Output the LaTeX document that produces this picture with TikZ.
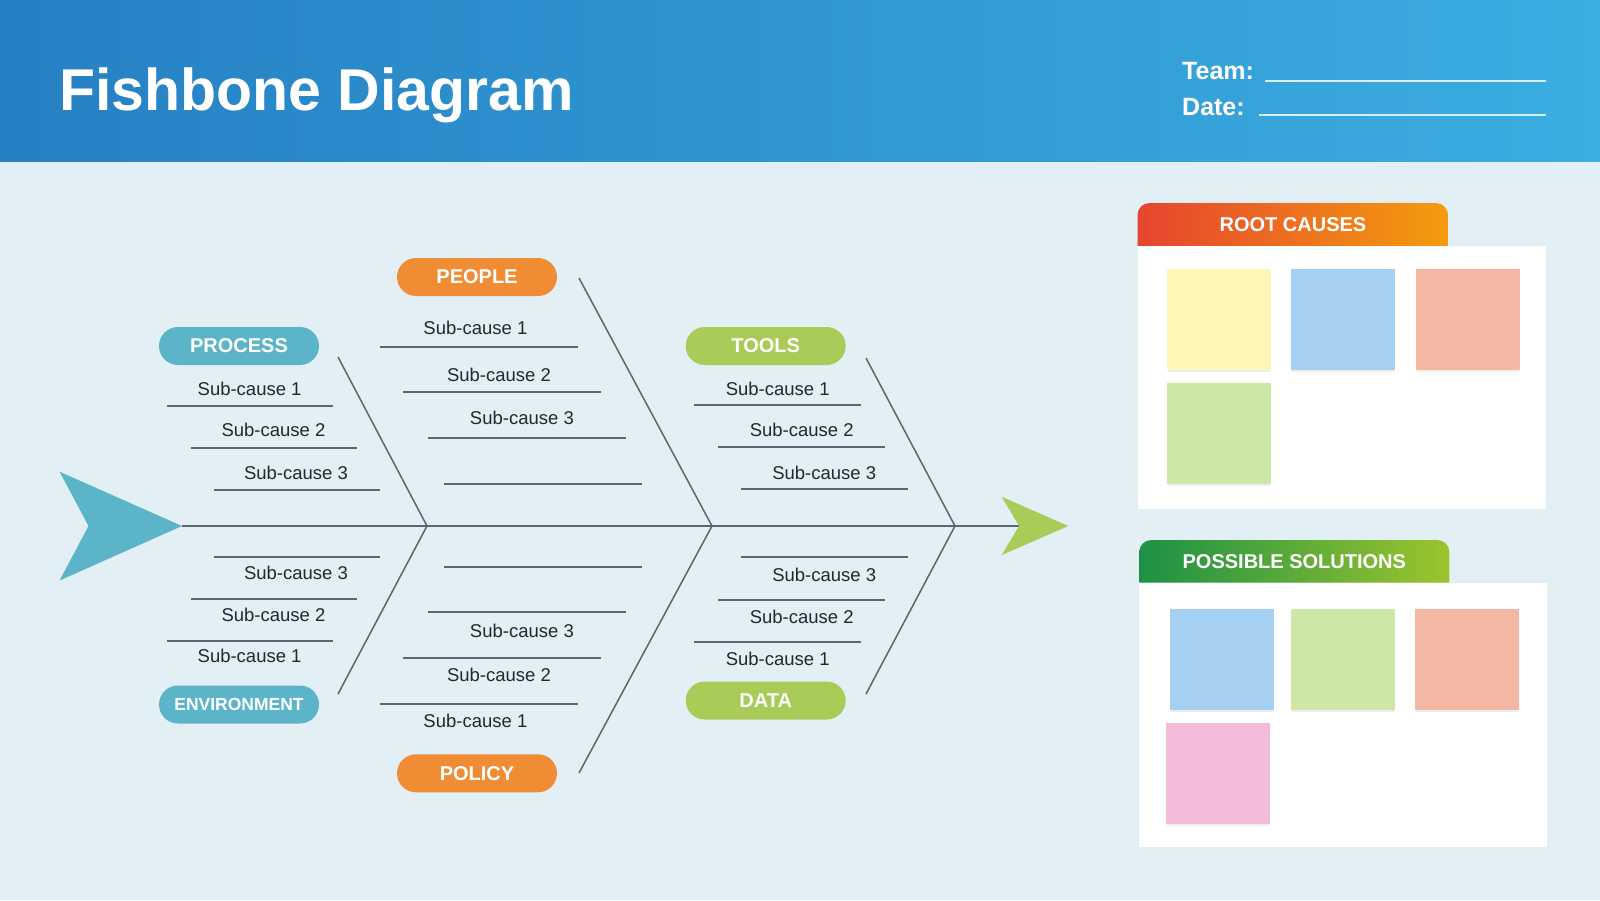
\documentclass[tikz,border=0pt]{standalone}
\usepackage{fontspec}
\setmainfont{Liberation Sans}
\definecolor{bg}{HTML}{E2F0F6}
\definecolor{hdrL}{HTML}{2680C3}
\definecolor{hdrR}{HTML}{3AADE1}
\definecolor{teal}{HTML}{5CB4C8}
\definecolor{orng}{HTML}{F08C33}
\definecolor{lime}{HTML}{A9CC58}
\definecolor{bonec}{HTML}{5A6670}
\definecolor{txt}{HTML}{1E2A32}
\definecolor{redc}{HTML}{E5452F}
\definecolor{amber}{HTML}{F49C0E}
\definecolor{dgreen}{HTML}{1C9145}
\definecolor{lgreen}{HTML}{9DC42D}
\definecolor{stkY}{HTML}{FCF7B7}
\definecolor{stkB}{HTML}{A6D0F2}
\definecolor{stkS}{HTML}{F4B7A3}
\definecolor{stkG}{HTML}{CDE8A6}
\definecolor{stkP}{HTML}{F2BBDA}
\tikzset{
  pill/.style={rectangle, rounded corners=19pt, minimum width=160pt, minimum height=38pt, inner sep=0pt, text=white, font=\fontsize{20}{20}\selectfont\bfseries},
  sub/.style={inner sep=0pt, text=txt, font=\fontsize{18.5}{18.5}\selectfont},
  subl/.style={draw=bonec, line width=2pt},
  bone/.style={draw=bonec, line width=1.5pt},
  spine/.style={draw=bonec, line width=2.5pt},
  sticky/.style={rectangle, minimum width=104pt, minimum height=101pt, inner sep=0pt},
  tabtext/.style={inner sep=0pt, text=white, font=\fontsize{20}{20}\selectfont\bfseries}
}
\begin{document}
\begin{tikzpicture}[x=1pt,y=-1pt]
\useasboundingbox (0,0) rectangle (1600,900);
\fill[bg] (0,0) rectangle (1600,900);
% header
\shade[left color=hdrL, right color=hdrR] (0,0) rectangle (1600,161);
\node[anchor=base west, inner sep=0pt, text=white, font=\fontsize{59}{59}\selectfont\bfseries] (title) at (59,110) {Fishbone Diagram};
\node[anchor=base west, inner sep=0pt, text=white, font=\fontsize{25}{25}\selectfont\bfseries] (team) at (1182,79) {Team:};
\node[anchor=base west, inner sep=0pt, text=white, font=\fontsize{25}{25}\selectfont\bfseries] (date) at (1182,115) {Date:};
\coordinate (tl1) at (1265,81); \coordinate (tl2) at (1546,81);
\coordinate (dl1) at (1259,115); \coordinate (dl2) at (1546,115);
\draw[white!80!hdrR, line width=1.3pt] (tl1) -- (tl2);
\draw[white!80!hdrR, line width=1.3pt] (dl1) -- (dl2);

% fish tail and head
\coordinate (tailtip) at (182,526);
\coordinate (headnotch) at (1019,526);
\fill[teal] (59.6,471.7) -- (tailtip) -- (59.6,580.5) -- (88.5,526) -- cycle;
\draw[spine] (tailtip) -- (headnotch);
\fill[lime] (1001.7,496.7) -- (1068.3,526) -- (1001.7,555) -- (headnotch) -- cycle;

% bones
\coordinate (J1) at (427,526); \coordinate (B1t) at (338,357); \coordinate (B1b) at (338,694);
\coordinate (J2) at (712,526); \coordinate (B2t) at (579,278); \coordinate (B2b) at (579,773);
\coordinate (J3) at (955,526); \coordinate (B3t) at (866,358); \coordinate (B3b) at (866,694);
\draw[bone] (B1t) -- (J1) -- (B1b);
\draw[bone] (B2t) -- (J2) -- (B2b);
\draw[bone] (B3t) -- (J3) -- (B3b);

% pills
\node[pill, fill=teal] (process) at (239,346) {PROCESS};
\node[pill, fill=teal, font=\fontsize{17.5}{17.5}\selectfont\bfseries] (environment) at (239,704.5) {ENVIRONMENT};
\node[pill, fill=orng] (people) at (477,277) {PEOPLE};
\node[pill, fill=orng] (policy) at (477,773.3) {POLICY};
\node[pill, fill=lime] (tools) at (765.7,346) {TOOLS};
\node[pill, fill=lime] (data) at (765.7,700.5) {DATA};

% process sub-causes
\node[sub] (pr1) at (249.6,389) {Sub-cause 1};
\node[sub] (pr2) at (273.5,430) {Sub-cause 2};
\node[sub] (pr3) at (296,472.4) {Sub-cause 3};
\draw[subl] (166.5,405.7) -- (333,405.7);
\draw[subl] (190.8,448) -- (357.3,448);
\draw[subl] (213.5,490) -- (380,490);
% environment sub-causes
\draw[subl] (213.5,556.7) -- (380,556.7);
\draw[subl] (190.8,599) -- (357.3,599);
\draw[subl] (166.5,641) -- (333,641);
\node[sub] (en3) at (296,572.7) {Sub-cause 3};
\node[sub] (en2) at (273.5,615) {Sub-cause 2};
\node[sub] (en1) at (249.6,656) {Sub-cause 1};

% people sub-causes
\node[sub] (pe1) at (475.4,328.3) {Sub-cause 1};
\node[sub] (pe2) at (499,375) {Sub-cause 2};
\node[sub] (pe3) at (521.9,418.3) {Sub-cause 3};
\draw[subl] (380.3,346.7) -- (578,346.7);
\draw[subl] (403.2,392.3) -- (601,392.3);
\draw[subl] (428,438) -- (625.6,438);
\draw[subl] (444,483.7) -- (642.4,483.7);
% policy sub-causes
\draw[subl] (444,566.7) -- (642.4,566.7);
\draw[subl] (428,612) -- (625.6,612);
\draw[subl] (403.2,657.7) -- (601,657.7);
\draw[subl] (380.3,703.7) -- (578,703.7);
\node[sub] (po3) at (521.9,630.7) {Sub-cause 3};
\node[sub] (po2) at (499,675) {Sub-cause 2};
\node[sub] (po1) at (475.4,721) {Sub-cause 1};

% tools sub-causes
\node[sub] (to1) at (777.7,389.3) {Sub-cause 1};
\node[sub] (to2) at (801.7,430) {Sub-cause 2};
\node[sub] (to3) at (824.2,472.7) {Sub-cause 3};
\draw[subl] (694,405.3) -- (860.7,405.3);
\draw[subl] (718.3,447) -- (885,447);
\draw[subl] (741,489.3) -- (907.7,489.3);
% data sub-causes
\draw[subl] (741,557.3) -- (907.7,557.3);
\draw[subl] (718.3,599.7) -- (885,599.7);
\draw[subl] (694,641.7) -- (860.7,641.7);
\node[sub] (da3) at (824.2,575) {Sub-cause 3};
\node[sub] (da2) at (801.7,616.7) {Sub-cause 2};
\node[sub] (da1) at (777.7,659) {Sub-cause 1};

% root causes panel
\shade[left color=redc, right color=amber] (1137.5,246) [rounded corners=12pt] -- (1137.5,203) -- (1448,203) [sharp corners] -- (1448,246) -- cycle;
\fill[white] (1137.5,246) rectangle (1545.7,509.3);
\node[tabtext] (rctitle) at (1293,224.5) {ROOT CAUSES};
\foreach \x/\y/\c/\n in {1166.7/268.3/stkY/rc1, 1291/268.3/stkB/rc2, 1415.7/268.3/stkS/rc3, 1166.7/382.7/stkG/rc4}{
  \fill[black!7] (\x+1,\y+3) rectangle (\x+103,\y+103.5);
  \node[sticky, fill=\c, anchor=north west] (\n) at (\x,\y) {};
}

% possible solutions panel
\shade[left color=dgreen, right color=lgreen] (1139.3,582.7) [rounded corners=12pt] -- (1139.3,540) -- (1449.3,540) [sharp corners] -- (1449.3,582.7) -- cycle;
\fill[white] (1139.3,582.7) rectangle (1546.7,846.7);
\node[tabtext] (pstitle) at (1294.3,561.7) {POSSIBLE SOLUTIONS};
\foreach \x/\y/\c/\n in {1170/608.3/stkB/ps1, 1291/608.3/stkG/ps2, 1415/608.3/stkS/ps3, 1166/722.7/stkP/ps4}{
  \fill[black!7] (\x+1,\y+3) rectangle (\x+103,\y+103.5);
  \node[sticky, fill=\c, anchor=north west] (\n) at (\x,\y) {};
}
\end{tikzpicture}
\end{document}
